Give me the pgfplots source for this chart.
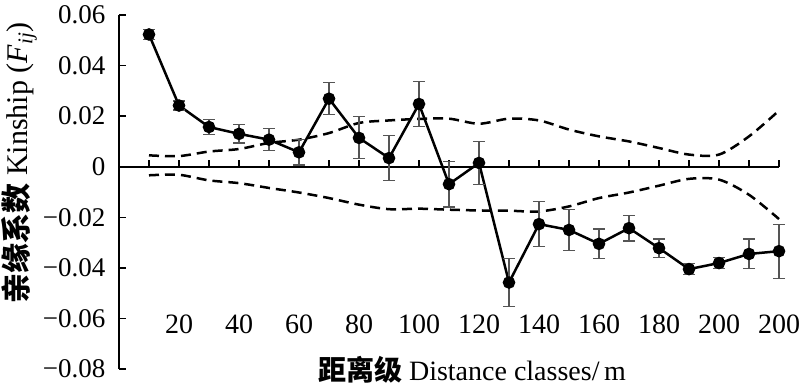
\documentclass[border=0pt]{standalone}
\usepackage{pgfplots}
\pgfplotsset{compat=1.18}
\usepackage{pgfplotstable}
\usepackage{fontspec}
\setmainfont{Liberation Serif}
\newfontfamily\cjk{Noto Sans CJK SC}
\definecolor{errgray}{HTML}{555555}

\pgfplotstableread{
x   y        e
10  0.0523   0.0020
20  0.0242   0.0018
30  0.0157   0.0031
40  0.0130   0.0036
50  0.0107   0.0044
60  0.0057   0.0050
70  0.0269   0.0063
80  0.0114   0.0083
90  0.0034   0.0089
100 0.0248   0.0088
110 -0.0069  0.0090
120 0.0015   0.0086
130 -0.0458  0.0094
140 -0.0227  0.0088
150 -0.0250  0.0080
160 -0.0305  0.0059
170 -0.0243  0.0051
180 -0.0322  0.0036
190 -0.0405  0.0021
200 -0.0381  0.0023
210 -0.0345  0.0059
220 -0.0334  0.0107
}\kinship

\pgfplotstableread{
x   up      lo
10  0.0045  -0.0034
20  0.0042  -0.0032
30  0.0060  -0.0054
40  0.0070  -0.0065
50  0.0094  -0.0084
60  0.0107  -0.0102
70  0.0133  -0.0124
80  0.0173  -0.0150
90  0.0183  -0.0168
100 0.0189  -0.0166
110 0.0190  -0.0170
120 0.0170  -0.0173
130 0.0190  -0.0174
140 0.0183  -0.0177
150 0.0147  -0.0157
160 0.0120  -0.0124
170 0.0100  -0.0102
180 0.0074  -0.0075
190 0.0048  -0.0048
200 0.0048  -0.0051
210 0.0120  -0.0111
220 0.0222  -0.0207
}\envelope

\begin{document}
\begin{tikzpicture}
\begin{axis}[
  at={(119pt,18pt)}, anchor=south west,
  scale only axis, width=660pt, height=354pt,
  xmin=0, xmax=220, ymin=-0.08, ymax=0.06,
  axis y line=left, axis x line=middle,
  axis line style={-, line width=2pt},
  xtick={10,20,...,220},
  xticklabels={,20,,40,,60,,80,,100,,120,,140,,160,,180,,200,,200},
  ytick={-0.08,-0.06,-0.04,-0.02,0,0.02,0.04,0.06},
  yticklabels={−0.08,−0.06,−0.04,−0.02,0,0.02,0.04,0.06},
  scaled y ticks=false,
  tick style={line width=1.5pt, black},
  major tick length=7pt,
  tick align=inside,
  xticklabel style={font=\fontsize{28}{32}\selectfont, yshift=-145pt},
  yticklabel style={font=\fontsize{27}{32}\selectfont, xshift=-10pt},
  clip=false,
]
\addplot[black, line width=2.5pt, dash pattern=on 10pt off 6pt, smooth, tension=0.5] table[x=x, y=up] {\envelope};
\addplot[black, line width=2.5pt, dash pattern=on 10pt off 6pt, smooth, tension=0.5] table[x=x, y=lo] {\envelope};
\addplot[black, line width=2.5pt, mark=*, mark size=5pt,
  error bars/.cd, y dir=both, y explicit,
  error bar style={errgray, line width=1.2pt, solid},
  error mark options={rotate=90, mark size=6pt, line width=1.2pt, errgray}]
  table[x=x, y=y, y error=e] {\kinship};
\end{axis}
\node at (472pt, 17pt) {\fontsize{28}{32}\selectfont{\cjk\bfseries 距离级}\ Distance classes/\,m};
\node[rotate=90] at (19pt, 224pt) {\fontsize{30}{34}\selectfont{\cjk\bfseries 亲缘系数}\ Kinship (\textit{F}\textsubscript{\textit{ij}})};
\pgfresetboundingbox
\path[use as bounding box] (0,0) rectangle (800pt,387pt);
\end{tikzpicture}
\end{document}
